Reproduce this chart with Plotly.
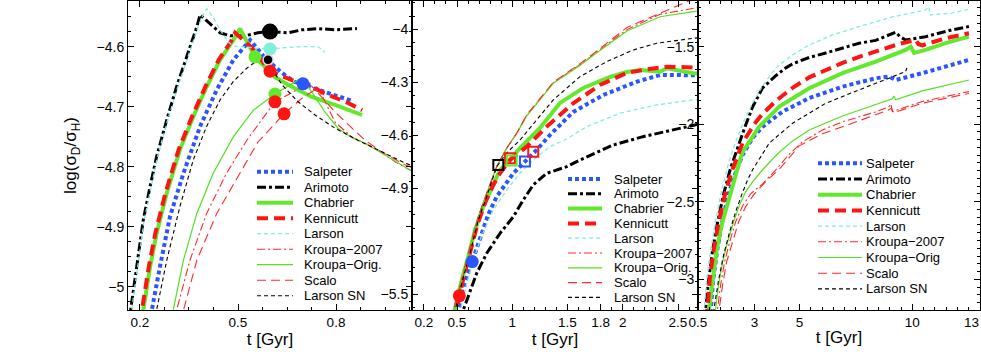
import plotly.graph_objects as go

# ------------------------------------------------------------------
# Series (drawing / legend order) and legend labels
# ------------------------------------------------------------------
SERIES = ["Salpeter", "Arimoto", "Chabrier", "Kennicutt", "Larson",
          "Kroupa-2007", "Kroupa-Orig", "Scalo", "Larson SN"]
LABELS_P12 = ["Salpeter", "Arimoto", "Chabrier", "Kennicutt", "Larson",
              "Kroupa\u22122007", "Kroupa\u2212Orig.", "Scalo", "Larson SN"]
LABELS_P3 = ["Salpeter", "Arimoto", "Chabrier", "Kennicutt", "Larson",
             "Kroupa\u22122007", "Kroupa\u2212Orig", "Scalo", "Larson SN"]

# tick values / labels
X1_TICKS = [0.2, 0.5, 0.8]
X1_LABELS = ["0.2", "0.5", "0.8"]
X2_TICKS = [0.2, 0.5, 1, 1.5, 1.8, 2, 2.5]
X2_LABELS = ["0.2", "0.5", "1", "1.5", "1.8", "2", "2.5"]
X3_TICKS = [0.5, 3, 5, 10]
X3_LABELS = ["0.5", "3", "5", "10"]
X3_END_TICK = 13            # last tick of panel 3 (at the frame); label right-aligned to it
X3_END_LABEL = "13"
Y1_TICKS = [-4.6, -4.7, -4.8, -4.9, -5]
Y1_LABELS = ["\u22124.6", "\u22124.7", "\u22124.8", "\u22124.9", "\u22125"]
Y2_TICKS = [-4, -4.3, -4.6, -4.9, -5.5]
Y2_LABELS = ["\u22124", "\u22124.3", "\u22124.6", "\u22124.9", "\u22125.5"]
Y3_TICKS = [-1.5, -2, -2.5, -3]
Y3_LABELS = ["\u22121.5", "\u22122", "\u22122.5", "\u22123"]

# ------------------------------------------------------------------
# Panel 1 : t [Gyr] vs log(sigma_D/sigma_H)
# ------------------------------------------------------------------
sal1_t = [0.229, 0.236, 0.261, 0.292, 0.333, 0.384, 0.435, 0.486, 0.537, 0.583, 0.635, 0.674, 0.699, 0.745, 0.797, 0.852]
sal1_v = [-5.06, -5.039, -4.967, -4.883, -4.811, -4.733, -4.672, -4.622, -4.589, -4.619, -4.644, -4.659, -4.662, -4.672, -4.681, -4.691]
ari1_t = [0.166, 0.176, 0.190, 0.210, 0.231, 0.251, 0.282, 0.312, 0.343, 0.374, 0.384, 0.445, 0.476, 0.521, 0.561, 0.598, 0.653, 0.696, 0.745, 0.797, 0.864]
ari1_v = [-5.06, -5.022, -4.967, -4.889, -4.833, -4.783, -4.722, -4.667, -4.617, -4.567, -4.547, -4.577, -4.582, -4.582, -4.577, -4.575, -4.577, -4.572, -4.570, -4.572, -4.570]
chab1_t = [0.204, 0.210, 0.231, 0.251, 0.282, 0.322, 0.363, 0.404, 0.445, 0.486, 0.506, 0.552, 0.613, 0.665, 0.726, 0.797, 0.880]
chab1_v = [-5.06, -5.039, -4.967, -4.911, -4.844, -4.772, -4.717, -4.667, -4.622, -4.589, -4.570, -4.617, -4.651, -4.667, -4.684, -4.697, -4.714]
ken1_t = [0.200, 0.206, 0.227, 0.247, 0.278, 0.318, 0.359, 0.400, 0.441, 0.478, 0.491, 0.543, 0.598, 0.665, 0.714, 0.757, 0.806, 0.837, 0.880]
ken1_v = [-5.06, -5.039, -4.967, -4.911, -4.844, -4.772, -4.717, -4.667, -4.622, -4.592, -4.577, -4.602, -4.641, -4.656, -4.662, -4.676, -4.686, -4.694, -4.706]
lar1_t = [0.169, 0.178, 0.193, 0.213, 0.234, 0.254, 0.285, 0.316, 0.347, 0.378, 0.395, 0.405, 0.425, 0.445, 0.470, 0.485, 0.512, 0.560, 0.598, 0.635, 0.696, 0.745, 0.766]
lar1_v = [-5.06, -5.022, -4.967, -4.889, -4.833, -4.783, -4.722, -4.667, -4.617, -4.567, -4.545, -4.537, -4.552, -4.572, -4.592, -4.599, -4.600, -4.603, -4.604, -4.602, -4.600, -4.600, -4.609]
k071_t = [0.302, 0.312, 0.353, 0.404, 0.465, 0.527, 0.588, 0.613, 0.665, 0.714, 0.757, 0.797, 0.849, 0.919, 0.981, 1.040]
k071_v = [-5.06, -5.039, -4.956, -4.878, -4.811, -4.756, -4.711, -4.692, -4.677, -4.661, -4.681, -4.726, -4.751, -4.769, -4.792, -4.810]
kor1_t = [0.294, 0.302, 0.333, 0.374, 0.424, 0.486, 0.547, 0.613, 0.696, 0.726, 0.766, 0.806, 0.849, 0.889, 0.950, 1.040]
kor1_v = [-5.06, -5.039, -4.956, -4.878, -4.811, -4.750, -4.706, -4.679, -4.652, -4.676, -4.709, -4.736, -4.752, -4.761, -4.781, -4.810]
sca1_t = [0.323, 0.333, 0.374, 0.435, 0.506, 0.561, 0.641, 0.696, 0.736, 0.797, 0.849, 0.889, 0.941, 1.011, 1.040]
sca1_v = [-5.06, -5.039, -4.956, -4.878, -4.811, -4.759, -4.712, -4.686, -4.672, -4.709, -4.736, -4.756, -4.776, -4.797, -4.803]
lsn1_t = [0.243, 0.251, 0.282, 0.322, 0.363, 0.404, 0.445, 0.486, 0.527, 0.572, 0.592, 0.635, 0.684, 0.736, 0.797, 0.867, 0.928, 1.011, 1.040]
lsn1_v = [-5.06, -5.039, -4.956, -4.867, -4.789, -4.733, -4.689, -4.658, -4.636, -4.618, -4.626, -4.664, -4.692, -4.714, -4.736, -4.756, -4.772, -4.794, -4.800]

# panel 1 marked points (filled circles)
mk1_series = ["Arimoto", "Larson", "Chabrier", "Salpeter", "Larson SN",
              "Kennicutt", "Kroupa-Orig", "Kroupa-2007", "Scalo"]
mk1_t = [0.598, 0.598, 0.552, 0.699, 0.592, 0.598, 0.613, 0.613, 0.641]
mk1_v = [-4.575, -4.604, -4.617, -4.662, -4.622, -4.641, -4.679, -4.692, -4.712]

# ------------------------------------------------------------------
# Panel 2
# ------------------------------------------------------------------
sal2_t = [0.490, 0.512, 0.588, 0.638, 0.708, 0.781, 0.859, 1.010, 1.115, 1.221, 1.342, 1.552, 1.824, 2.126, 2.337, 2.638, 2.700]
sal2_v = [-5.650, -5.589, -5.400, -5.315, -5.192, -5.051, -4.947, -4.815, -4.749, -4.683, -4.598, -4.468, -4.372, -4.297, -4.259, -4.259, -4.260]
ari2_t = [0.540, 0.557, 0.678, 0.769, 0.889, 1.010, 1.100, 1.190, 1.312, 1.493, 1.613, 1.914, 2.183, 2.400, 2.581, 2.700]
ari2_v = [-5.650, -5.589, -5.381, -5.268, -5.155, -5.061, -4.966, -4.881, -4.815, -4.778, -4.740, -4.655, -4.608, -4.578, -4.551, -4.535]
chab2_t = [0.460, 0.482, 0.543, 0.602, 0.663, 0.738, 0.829, 0.889, 0.995, 1.070, 1.251, 1.432, 1.643, 1.885, 2.036, 2.156, 2.337, 2.398, 2.638, 2.700]
chab2_v = [-5.650, -5.589, -5.419, -5.287, -5.136, -5.004, -4.872, -4.796, -4.728, -4.672, -4.559, -4.417, -4.332, -4.270, -4.242, -4.230, -4.240, -4.221, -4.249, -4.252]
ken2_t = [0.470, 0.497, 0.554, 0.618, 0.681, 0.753, 0.829, 0.889, 0.980, 1.131, 1.312, 1.552, 1.794, 2.036, 2.186, 2.398, 2.638, 2.700]
ken2_v = [-5.650, -5.589, -5.419, -5.260, -5.113, -4.983, -4.881, -4.815, -4.740, -4.664, -4.551, -4.419, -4.315, -4.247, -4.230, -4.212, -4.217, -4.217]
lar2_t = [0.510, 0.535, 0.555, 0.640, 0.720, 0.829, 0.950, 1.070, 1.190, 1.342, 1.493, 1.674, 1.975, 2.307, 2.638, 2.700]
lar2_v = [-5.650, -5.589, -5.513, -5.324, -5.174, -5.023, -4.909, -4.815, -4.740, -4.664, -4.621, -4.551, -4.475, -4.428, -4.400, -4.397]
k072_t = [0.445, 0.467, 0.527, 0.588, 0.633, 0.693, 0.769, 0.859, 0.950, 1.040, 1.131, 1.371, 1.613, 1.731, 2.038, 2.337, 2.672, 2.700]
k072_v = [-5.650, -5.589, -5.457, -5.324, -5.210, -5.061, -4.928, -4.778, -4.673, -4.589, -4.487, -4.303, -4.200, -4.146, -4.002, -3.915, -3.879, -3.875]
kor2_t = [0.445, 0.467, 0.527, 0.588, 0.633, 0.693, 0.769, 0.859, 0.950, 1.040, 1.131, 1.371, 1.613, 1.731, 2.038, 2.337, 2.638, 2.700]
kor2_v = [-5.650, -5.589, -5.457, -5.324, -5.210, -5.061, -4.928, -4.778, -4.673, -4.589, -4.490, -4.306, -4.205, -4.148, -4.010, -3.929, -3.900, -3.895]
sca2_t = [0.445, 0.467, 0.527, 0.588, 0.633, 0.693, 0.769, 0.859, 0.950, 1.040, 1.131, 1.371, 1.613, 1.731, 2.038, 2.400, 2.581, 2.700]
sca2_v = [-5.650, -5.589, -5.457, -5.324, -5.210, -5.061, -4.928, -4.778, -4.673, -4.589, -4.485, -4.300, -4.195, -4.140, -3.990, -3.891, -3.844, -3.820]
lsn2_t = [0.460, 0.482, 0.543, 0.618, 0.693, 0.769, 0.859, 0.950, 1.070, 1.221, 1.371, 1.613, 1.855, 2.095, 2.307, 2.638, 2.700]
lsn2_v = [-5.650, -5.589, -5.437, -5.268, -5.079, -4.947, -4.778, -4.700, -4.627, -4.513, -4.400, -4.268, -4.183, -4.117, -4.079, -4.051, -4.048]

# panel 2 marked points: filled circles and open squares
mk2c_series = ["Kennicutt", "Salpeter"]
mk2c_t = [0.521, 0.638]
mk2c_v = [-5.509, -5.315]
mk2s_series = ["Larson SN", "Kennicutt", "Chabrier", "Salpeter", "Scalo"]
mk2s_t = [0.874, 0.980, 0.995, 1.115, 1.190]
mk2s_v = [-4.768, -4.730, -4.743, -4.749, -4.693]

# ------------------------------------------------------------------
# Panel 3
# ------------------------------------------------------------------
sal3_t = [0.996, 1.075, 1.173, 1.350, 1.571, 1.836, 2.080, 2.301, 2.478, 2.920, 3.363, 4.248, 5.429, 6.903, 8.376, 8.969, 9.261, 10.442, 12.509]
sal3_v = [-3.261, -3.175, -3.003, -2.810, -2.630, -2.462, -2.346, -2.262, -2.198, -2.088, -2.017, -1.919, -1.832, -1.758, -1.704, -1.693, -1.715, -1.671, -1.586]
ari3_t = [0.774, 0.854, 0.973, 1.150, 1.372, 1.637, 1.947, 2.257, 2.566, 2.920, 3.363, 3.938, 4.394, 4.690, 5.429, 6.164, 6.903, 7.642, 8.376, 9.261, 9.469, 9.704, 10.588, 11.770, 12.509]
ari3_v = [-3.261, -3.175, -3.003, -2.810, -2.630, -2.449, -2.282, -2.146, -2.024, -1.889, -1.766, -1.689, -1.637, -1.611, -1.570, -1.541, -1.510, -1.478, -1.460, -1.407, -1.438, -1.457, -1.436, -1.392, -1.371]
chab3_t = [0.929, 1.004, 1.150, 1.327, 1.549, 1.814, 2.080, 2.301, 2.478, 3.217, 4.102, 5.429, 6.903, 8.376, 9.704, 9.925, 10.075, 10.588, 11.473, 12.509]
chab3_v = [-3.261, -3.175, -2.971, -2.810, -2.649, -2.507, -2.372, -2.262, -2.178, -2.015, -1.887, -1.768, -1.671, -1.597, -1.521, -1.500, -1.541, -1.521, -1.478, -1.436]
ken3_t = [0.841, 0.929, 1.018, 1.195, 1.416, 1.681, 1.991, 2.257, 2.478, 3.066, 3.363, 3.951, 4.690, 5.429, 6.164, 6.903, 7.642, 8.376, 9.412, 10.146, 10.265, 10.442, 11.473, 12.509]
ken3_v = [-3.261, -3.175, -3.003, -2.810, -2.630, -2.462, -2.307, -2.198, -2.120, -1.985, -1.934, -1.850, -1.766, -1.698, -1.650, -1.605, -1.566, -1.531, -1.483, -1.457, -1.483, -1.492, -1.446, -1.414]
lar3_t = [0.708, 0.783, 0.885, 1.062, 1.283, 1.549, 1.858, 2.168, 2.522, 2.920, 3.363, 3.951, 4.690, 5.429, 6.460, 7.642, 9.115, 10.588, 10.730, 10.788, 11.770, 12.509]
lar3_v = [-3.261, -3.175, -3.003, -2.810, -2.617, -2.423, -2.249, -2.114, -1.985, -1.863, -1.753, -1.637, -1.553, -1.489, -1.425, -1.371, -1.309, -1.264, -1.242, -1.296, -1.283, -1.259]
k073_t = [1.305, 1.372, 1.504, 1.681, 1.903, 2.168, 2.478, 2.832, 3.363, 3.951, 4.513, 5.133, 6.018, 6.903, 8.376, 8.969, 9.049, 9.115, 10.442, 12.509]
k073_v = [-3.261, -3.175, -3.035, -2.887, -2.758, -2.630, -2.526, -2.449, -2.385, -2.294, -2.198, -2.114, -2.037, -1.985, -1.921, -1.887, -1.869, -1.919, -1.854, -1.790]
kor3_t = [1.217, 1.296, 1.416, 1.593, 1.814, 2.080, 2.345, 2.611, 2.920, 3.363, 4.027, 4.690, 5.429, 6.903, 8.376, 9.115, 9.181, 9.261, 10.442, 12.509]
kor3_v = [-3.261, -3.175, -3.035, -2.887, -2.758, -2.630, -2.520, -2.436, -2.372, -2.294, -2.191, -2.108, -2.037, -1.947, -1.876, -1.837, -1.818, -1.843, -1.785, -1.715]
sca3_t = [1.372, 1.447, 1.593, 1.770, 2.035, 2.301, 2.611, 2.965, 3.451, 4.159, 4.987, 6.018, 6.903, 8.376, 8.969, 9.071, 9.159, 10.442, 12.509]
sca3_v = [-3.261, -3.175, -3.035, -2.887, -2.758, -2.630, -2.533, -2.456, -2.378, -2.282, -2.140, -2.062, -2.017, -1.940, -1.908, -1.895, -1.927, -1.865, -1.802]
lsn3_t = [1.150, 1.226, 1.416, 1.637, 1.903, 2.168, 2.434, 2.699, 2.920, 3.659, 4.690, 6.164, 7.642, 9.115, 9.704, 9.760]
lsn3_v = [-3.261, -3.175, -3.003, -2.842, -2.694, -2.565, -2.456, -2.359, -2.294, -2.122, -1.994, -1.865, -1.779, -1.693, -1.661, -1.637]

PANEL_DATA = [
    {"Salpeter": (sal1_t, sal1_v), "Arimoto": (ari1_t, ari1_v), "Chabrier": (chab1_t, chab1_v),
     "Kennicutt": (ken1_t, ken1_v), "Larson": (lar1_t, lar1_v), "Kroupa-2007": (k071_t, k071_v),
     "Kroupa-Orig": (kor1_t, kor1_v), "Scalo": (sca1_t, sca1_v), "Larson SN": (lsn1_t, lsn1_v)},
    {"Salpeter": (sal2_t, sal2_v), "Arimoto": (ari2_t, ari2_v), "Chabrier": (chab2_t, chab2_v),
     "Kennicutt": (ken2_t, ken2_v), "Larson": (lar2_t, lar2_v), "Kroupa-2007": (k072_t, k072_v),
     "Kroupa-Orig": (kor2_t, kor2_v), "Scalo": (sca2_t, sca2_v), "Larson SN": (lsn2_t, lsn2_v)},
    {"Salpeter": (sal3_t, sal3_v), "Arimoto": (ari3_t, ari3_v), "Chabrier": (chab3_t, chab3_v),
     "Kennicutt": (ken3_t, ken3_v), "Larson": (lar3_t, lar3_v), "Kroupa-2007": (k073_t, k073_v),
     "Kroupa-Orig": (kor3_t, kor3_v), "Scalo": (sca3_t, sca3_v), "Larson SN": (lsn3_t, lsn3_v)},
]

# ------------------------------------------------------------------
# Styles
# ------------------------------------------------------------------
STYLE = {
    "Salpeter":    dict(color="#2a55ff", width=4.0, dash="4px,3px"),
    "Arimoto":     dict(color="#000000", width=3.0, dash="9px,3px,3px,3px"),
    "Chabrier":    dict(color="#62e82c", width=4.0, dash="solid"),
    "Kennicutt":   dict(color="#ff1414", width=4.0, dash="11px,6px"),
    "Larson":      dict(color="#80ece2", width=1.3, dash="4px,3px"),
    "Kroupa-2007": dict(color="#ff2a2a", width=1.1, dash="8px,3px,2px,3px"),
    "Kroupa-Orig": dict(color="#55e022", width=1.2, dash="solid"),
    "Scalo":       dict(color="#ff2a2a", width=1.1, dash="9px,5px"),
    "Larson SN":   dict(color="#000000", width=1.1, dash="4px,3px"),
}
MARKER_COLOR = {"Salpeter": "#2a55ff", "Arimoto": "#000000", "Chabrier": "#62e82c",
                "Kennicutt": "#ff1414", "Larson": "#80f0dc", "Kroupa-2007": "#ff1414",
                "Kroupa-Orig": "#62e82c", "Scalo": "#ff1414", "Larson SN": "#000000"}

FONT = "Liberation Sans, Arial, Helvetica, sans-serif"
W, H = 981, 354
ML, MR, MT, MB = 128, 1, 1, 44
PW = W - ML - MR
PH = H - MT - MB
EDGES = [128, 412, 698, 980]   # panel frame positions (px)


def dom(a, b):
    return [(a - ML) / PW, (b - ML) / PW]


fig = go.Figure()

AX = [("x", "y"), ("x2", "y2"), ("x3", "y3")]
for p, data in enumerate(PANEL_DATA):
    xa, ya = AX[p]
    for name in SERIES:
        t, v = data[name]
        st = STYLE[name]
        fig.add_trace(go.Scatter(
            x=t, y=v, mode="lines", name=name, xaxis=xa, yaxis=ya,
            line=dict(color=st["color"], width=st["width"], dash=st["dash"]),
            showlegend=False, hoverinfo="skip"))

# panel 1 circles
for s, t, v in zip(mk1_series, mk1_t, mk1_v):
    size = 16 if s == "Arimoto" else (10 if s == "Larson SN" else 13)
    lw = 1.5 if s == "Larson SN" else 0
    fig.add_trace(go.Scatter(
        x=[t], y=[v], mode="markers", xaxis="x", yaxis="y", showlegend=False,
        hoverinfo="skip",
        marker=dict(symbol="circle", size=size, color=MARKER_COLOR[s],
                    line=dict(color="#dddddd", width=lw))))

# panel 2 circles and squares
fig.add_trace(go.Scatter(
    x=mk2c_t, y=mk2c_v, mode="markers", xaxis="x2", yaxis="y2", showlegend=False,
    hoverinfo="skip",
    marker=dict(symbol="circle", size=13, color=[MARKER_COLOR[s] for s in mk2c_series],
                line=dict(width=0))))
fig.add_trace(go.Scatter(
    x=mk2s_t, y=mk2s_v, mode="markers", xaxis="x2", yaxis="y2", showlegend=False,
    hoverinfo="skip",
    marker=dict(symbol="square-open", size=10, color=[MARKER_COLOR[s] for s in mk2s_series],
                line=dict(width=2))))

# ------------------------------------------------------------------
# Axes
# ------------------------------------------------------------------
def axis_common():
    return dict(showline=True, linecolor="black", linewidth=1, mirror="ticks",
                ticks="inside", ticklen=6, tickwidth=1, tickcolor="black",
                showgrid=False, zeroline=False, automargin=False,
                tickfont=dict(size=14, color="black", family=FONT),
                tickmode="array")


def minor(tick0, dtick):
    return dict(ticks="inside", ticklen=3, tickwidth=1, tickcolor="black",
                showgrid=False, tickmode="linear", tick0=tick0, dtick=dtick)


xt = dict(text="t [Gyr]", font=dict(size=17, color="black", family=FONT), standoff=1)

x_ranges = [[0.1633, 1.0326], [0.0928, 2.681], [0.5, 13.0]]
y_ranges = [[-5.039, -4.524], [-5.589, -3.840], [-3.198, -1.206]]
xticks = [(X1_TICKS, X1_LABELS), (X2_TICKS, X2_LABELS), (X3_TICKS, X3_LABELS)]
yticks = [(Y1_TICKS, Y1_LABELS), (Y2_TICKS, Y2_LABELS), (Y3_TICKS, Y3_LABELS)]
xminor = [(0.2, 0.075), (0.2, 0.1), (0.5, 0.5)]
yminor = [(-4.6, 0.025), (-4.0, 0.075), (-1.5, 0.05)]

layout_axes = {}
for p in range(3):
    xkey = "xaxis" if p == 0 else "xaxis%d" % (p + 1)
    ykey = "yaxis" if p == 0 else "yaxis%d" % (p + 1)
    xa = axis_common()
    xa.update(domain=dom(EDGES[p], EDGES[p + 1]), range=x_ranges[p],
              tickvals=xticks[p][0], ticktext=xticks[p][1],
              anchor=AX[p][1], title=xt, minor=minor(*xminor[p]),
              ticklabeloverflow="allow")
    xa["tickfont"] = dict(size=13.5, color="black", family=FONT)
    ya = axis_common()
    ya.update(domain=[0, 1], range=y_ranges[p],
              tickvals=yticks[p][0], ticktext=yticks[p][1],
              anchor=AX[p][0], minor=minor(*yminor[p]),
              ticklabeloverflow="allow")
    if p == 0:
        ya["title"] = dict(text="log(\u03c3<sub>D</sub>/\u03c3<sub>H</sub>)",
                           font=dict(size=17, color="black", family=FONT))
    layout_axes[xkey] = xa
    layout_axes[ykey] = ya

# ------------------------------------------------------------------
# Legends (one per panel, drawn as line samples + labels)
# ------------------------------------------------------------------
# (left px, right px, sample x0, sample x1, text x, first row y, row step, labels)
LEGENDS = [
    (128, 412, 257, 293, 302, 171.7, 15.5, LABELS_P12),
    (412, 698, 568, 602, 612, 179.0, 14.8, LABELS_P12),
    (698, 980, 818, 862, 864, 163.3, 15.7, LABELS_P3),
]
shapes, annotations = [], []
for p, (lft, rgt, sx0, sx1, tx, y0, dy, labels) in enumerate(LEGENDS):
    xref = ("x" if p == 0 else "x%d" % (p + 1)) + " domain"
    yref = ("y" if p == 0 else "y%d" % (p + 1)) + " domain"
    wpx = rgt - lft
    for i, name in enumerate(SERIES):
        ypx = y0 + i * dy
        yf = (MT + PH - ypx) / PH
        st = STYLE[name]
        shapes.append(dict(type="line", xref=xref, yref=yref,
                           x0=(sx0 - lft) / wpx, x1=(sx1 - lft) / wpx, y0=yf, y1=yf,
                           line=dict(color=st["color"], width=st["width"], dash=st["dash"])))
        annotations.append(dict(xref=xref, yref=yref, x=(tx - lft) / wpx, y=yf,
                                text=labels[i], showarrow=False, xanchor="left",
                                yanchor="middle",
                                font=dict(size=13, color="black", family=FONT)))

# last tick label of panel 3, right-aligned at its tick so it stays inside the figure
annotations.append(dict(xref="x3", yref="y3 domain", x=X3_END_TICK, y=0,
                        text=X3_END_LABEL, showarrow=False, xanchor="right",
                        yanchor="top", yshift=-4, borderpad=0,
                        font=dict(size=13.5, color="black", family=FONT)))

fig.update_layout(
    width=W, height=H,
    margin=dict(l=ML, r=MR, t=MT, b=MB, pad=0),
    paper_bgcolor="white", plot_bgcolor="white",
    font=dict(family=FONT, color="black"),
    showlegend=False, hovermode=False,
    shapes=shapes, annotations=annotations,
    **layout_axes,
)

# remove the browser's default page margin so the figure sits at the window origin,
# and hide the interactive mode bar
fig.write_html("out.html",
               config={"displayModeBar": False},
               post_script="document.body.style.margin='0';document.body.style.padding='0';")
